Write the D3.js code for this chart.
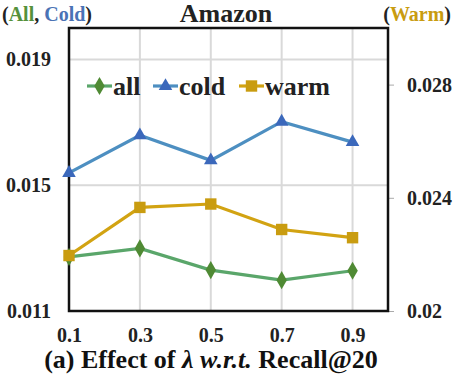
<!DOCTYPE html>
<html>
<head>
<meta charset="utf-8">
<script src="https://cdn.jsdelivr.net/npm/d3@7"></script>
<style>
  body { margin: 0; background: #fff; }
</style>
</head>
<body>
<svg id="chart" width="456" height="388"></svg>
<script>
var lambdas = [0.1, 0.3, 0.5, 0.7, 0.9];
var allValues = [0.01272, 0.01299, 0.01230, 0.01198, 0.01228];
var coldValues = [0.01539, 0.01659, 0.01579, 0.01702, 0.01637];
var warmValues = [0.02196, 0.02366, 0.02378, 0.02288, 0.02259];
var leftTicks = [0.011, 0.015, 0.019];
var rightTicks = [0.02, 0.024, 0.028];
var xTicks = [0.1, 0.3, 0.5, 0.7, 0.9];

const serif = "Liberation Serif";
const green = "#5aa66a", greenMark = "#4f8a34",
    blue = "#4d8fc1", blueMark = "#3b68bb",
    gold = "#d2a312", goldMark = "#c99c10";

var svg = d3.select("#chart"),
    margin = {top: 28, left: 69, right: 68, bottom: 77},
    width = 456 - margin.left - margin.right,
    height = 388 - margin.top - margin.bottom;

var x = d3.scaleLinear().domain([0.1, 1.0]).range([0, width]),
    yL = d3.scaleLinear().domain([0.011, 0.020]).range([height, 0]),
    yR = d3.scaleLinear().domain([0.02, 0.03]).range([height, 0]);

var g = svg.append("g")
    .attr("transform", "translate(" + margin.left + "," + margin.top + ")");

// grid
g.selectAll(".hgrid")
    .data(leftTicks.filter(function(d) { return d > 0.011; }))
    .enter().append("line")
    .attr("x1", 0).attr("x2", width)
    .attr("y1", function(d) { return yL(d); })
    .attr("y2", function(d) { return yL(d); })
    .attr("stroke", "#d9d9d9").attr("stroke-width", 2);

g.selectAll(".vgrid")
    .data(xTicks.filter(function(d) { return d > 0.1; }))
    .enter().append("line")
    .attr("y1", 0).attr("y2", height)
    .attr("x1", function(d) { return x(d); })
    .attr("x2", function(d) { return x(d); })
    .attr("stroke", "#d9d9d9").attr("stroke-width", 2);

function styleTicks(sel) {
    sel.attr("font-family", serif).attr("font-weight", "bold").attr("font-size", 20);
    sel.selectAll("text").attr("fill", "#222");
}

// axes
var left = g.append("g")
    .call(d3.axisLeft(yL).tickValues(leftTicks).tickSize(0).tickPadding(18)
        .tickFormat(d3.format(".3f")));
left.select(".domain").remove();
styleTicks(left);

var right = g.append("g")
    .attr("transform", "translate(" + width + ",0)")
    .call(d3.axisRight(yR).tickValues(rightTicks).tickSize(6).tickPadding(13)
        .tickFormat(function(d) { return d === 0.02 ? "0.02" : d3.format(".3f")(d); }));
right.select(".domain").remove();
right.selectAll("line").attr("stroke", "#aaa");
styleTicks(right);

var bottom = g.append("g")
    .attr("transform", "translate(0," + height + ")")
    .call(d3.axisBottom(x).tickValues(xTicks).tickSize(0).tickPadding(17)
        .tickFormat(d3.format(".1f")));
bottom.select(".domain").remove();
styleTicks(bottom);

// frame
g.append("rect")
    .attr("width", width).attr("height", height)
    .attr("fill", "none").attr("stroke", "#111").attr("stroke-width", 2.5);

// series
var series = [
    {name: "all", values: allValues, y: yL, line: green, mark: greenMark, sym: d3.symbolDiamond, size: 95},
    {name: "cold", values: coldValues, y: yL, line: blue, mark: blueMark, sym: d3.symbolTriangle, size: 80},
    {name: "warm", values: warmValues, y: yR, line: gold, mark: goldMark, sym: d3.symbolSquare, size: 130}
];

series.forEach(function(s) {
    var line = d3.line()
        .x(function(d, i) { return x(lambdas[i]); })
        .y(function(d) { return s.y(d); });
    g.append("path")
        .datum(s.values)
        .attr("d", line)
        .attr("fill", "none")
        .attr("stroke", s.line)
        .attr("stroke-width", 3.2);
    g.selectAll(".m-" + s.name)
        .data(s.values)
        .enter().append("path")
        .attr("d", d3.symbol().type(s.sym).size(s.size))
        .attr("transform", function(d, i) {
            return "translate(" + x(lambdas[i]) + "," + s.y(d) + ")";
        })
        .attr("fill", s.mark);
});

// legend
var legendX = [87, 153, 239];
series.forEach(function(s, i) {
    var lg = svg.append("g").attr("transform", "translate(" + legendX[i] + ",86)");
    lg.append("line").attr("x1", 0).attr("x2", 25)
        .attr("stroke", s.line).attr("stroke-width", 3.2);
    lg.append("path")
        .attr("d", d3.symbol().type(s.sym).size(s.size))
        .attr("transform", "translate(12.5,0)")
        .attr("fill", s.mark);
    lg.append("text").attr("x", 26).attr("y", 9)
        .attr("font-family", serif).attr("font-weight", "bold")
        .attr("font-size", 26).attr("fill", "#222").text(s.name);
});

// titles
svg.append("text").attr("x", 226).attr("y", 22).attr("text-anchor", "middle")
    .attr("font-family", serif).attr("font-weight", "bold")
    .attr("font-size", 26).attr("fill", "#222").text("Amazon");

var tl = svg.append("text").attr("x", 2).attr("y", 21)
    .attr("font-family", serif).attr("font-weight", "bold")
    .attr("font-size", 20).attr("fill", "#222");
tl.append("tspan").text("(");
tl.append("tspan").attr("fill", "#55913b").text("All");
tl.append("tspan").text(", ");
tl.append("tspan").attr("fill", "#4a73b5").text("Cold");
tl.append("tspan").text(")");

var tr = svg.append("text").attr("x", 451).attr("y", 21).attr("text-anchor", "end")
    .attr("font-family", serif).attr("font-weight", "bold")
    .attr("font-size", 20).attr("fill", "#222");
tr.append("tspan").text("(");
tr.append("tspan").attr("fill", "#c99c10").text("Warm");
tr.append("tspan").text(")");

var cap = svg.append("text").attr("x", 211).attr("y", 368).attr("text-anchor", "middle")
    .attr("font-family", serif).attr("font-weight", "bold")
    .attr("font-size", 26).attr("fill", "#111");
cap.append("tspan").text("(a) Effect of  ");
cap.append("tspan").attr("font-style", "italic").text("λ w.r.t.");
cap.append("tspan").text(" Recall@20");
</script>
</body>
</html>
